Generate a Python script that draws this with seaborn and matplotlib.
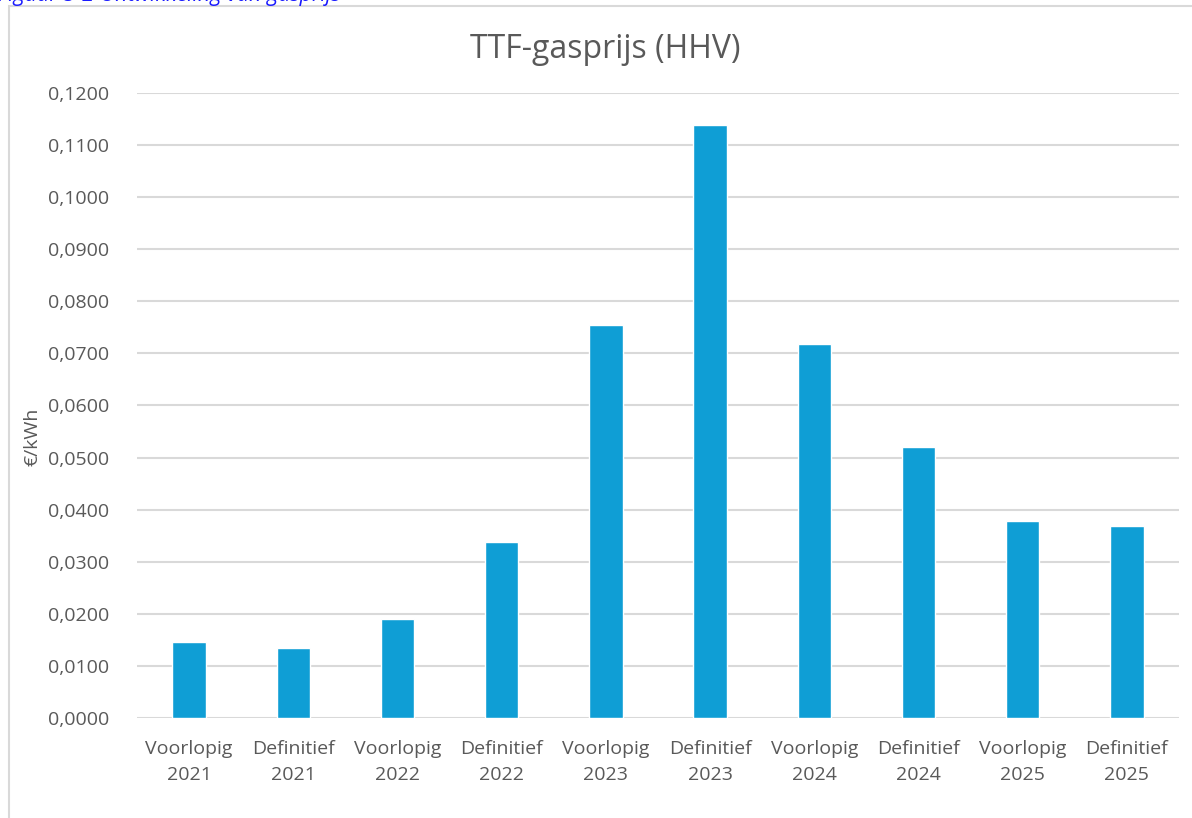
import matplotlib
matplotlib.use("Agg")
import matplotlib.pyplot as plt
import matplotlib.ticker as mticker
from matplotlib.patches import Rectangle
import seaborn as sns
import pandas as pd

status = ["Voorlopig", "Definitief"] * 5
years = ["2021", "2021", "2022", "2022", "2023", "2023", "2024", "2024", "2025", "2025"]
prices = [0.0146, 0.0135, 0.0190, 0.0338, 0.0755, 0.1139, 0.0718, 0.0520, 0.0378, 0.0369]

labels = [f"{s}\n{y}" for s, y in zip(status, years)]
df = pd.DataFrame({"label": labels, "price": prices})

sns.set_theme(style="white")
plt.rcParams["font.family"] = ["Open Sans", "DejaVu Sans"]

text_color = "#595959"
grid_color = "#d9d9d9"
bar_color = "#0f9ed5"

fig = plt.figure(figsize=(11.92, 8.18), dpi=100)
ax = fig.add_axes([137 / 1192, 1 - 718 / 818, (1179 - 137) / 1192, (718 - 93) / 818])

sns.barplot(data=df, x="label", y="price", color=bar_color, width=0.32,
            saturation=1, ax=ax, zorder=3)

ax.set_ylim(0, 0.12)
ax.set_xlim(-0.5, len(labels) - 0.5)
ax.yaxis.set_major_locator(mticker.MultipleLocator(0.01))
ax.yaxis.set_major_formatter(
    mticker.FuncFormatter(lambda v, p: f"{v:.4f}".replace(".", ",")))
ax.grid(axis="y", color=grid_color, linewidth=1.5, zorder=0)
ax.set_axisbelow(True)
for side in ["top", "right", "left", "bottom"]:
    ax.spines[side].set_visible(False)

ax.tick_params(axis="both", length=0, labelsize=14, labelcolor=text_color)
ax.tick_params(axis="y", pad=20)
ax.tick_params(axis="x", pad=16)
for t in ax.get_xticklabels():
    t.set_linespacing(1.55)
ax.set_xlabel("")
ax.set_ylabel("€/kWh", fontsize=14, color=text_color)
ax.yaxis.set_label_coords(-0.092, 0.45)

fig.text(605 / 1192, 1 - 50 / 818, "TTF-gasprijs (HHV)", ha="center", va="center",
         fontsize=23, color=text_color)

# chart frame and the caption above it, cut off at the top edge as in the source
fig.patches.append(Rectangle((9 / 1192, -0.01), 1.0, 1 - 6 / 818 + 0.01,
                             transform=fig.transFigure, fill=False,
                             edgecolor=grid_color, linewidth=1.5))
fig.text(-2 / 1192, 1 - 1 / 818, "Figuur 5-2 Ontwikkeling van gasprijs", ha="left",
         va="baseline", fontsize=15.5, color="#1a1aff", style="italic")

fig.savefig("out.png", dpi=100)
